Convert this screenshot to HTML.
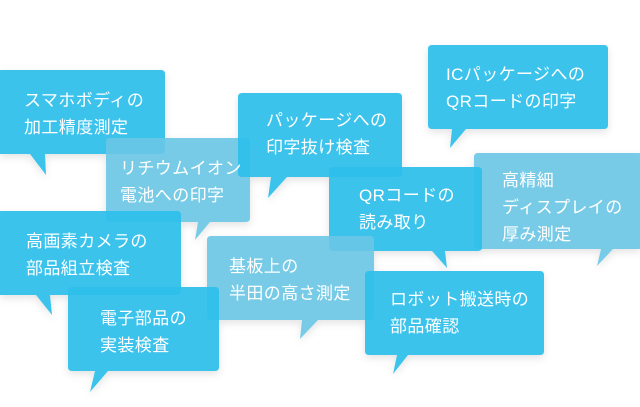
<!DOCTYPE html>
<html><head><meta charset="utf-8"><style>
html,body{margin:0;padding:0;background:#fff;}
svg{display:block}
text{font-family:"Liberation Sans","Noto Sans CJK JP",sans-serif;font-size:17px;fill:#fff;letter-spacing:0.4px}
.s{fill:#2ebfec;fill-opacity:0.92}
.l{fill:#6cc6e6;fill-opacity:0.9}
</style></head><body>
<svg width="640" height="407" viewBox="0 0 640 407" xmlns="http://www.w3.org/2000/svg">
<defs><filter id="sh" x="-20%" y="-20%" width="140%" height="150%"><feDropShadow dx="0" dy="3" stdDeviation="4" flood-color="#000" flood-opacity="0.12"/></filter></defs>
<g filter="url(#sh)">
<path class="s" d="M0 70 H161 Q165 70 165 74 V150 Q165 154 161 154 H45 L46 175 L30 154 H0 Z"/>
<path class="s" d="M432 45 H604 Q608 45 608 49 V125 Q608 129 604 129 H466 L450 148 L452 129 H432 Q428 129 428 125 V49 Q428 45 432 45 Z"/>
<path class="l" d="M110 138 H246 Q250 138 250 142 V218 Q250 222 246 222 H210 L195 240 L198 222 H110 Q106 222 106 218 V142 Q106 138 110 138 Z"/>
<path class="s" d="M242 93 H398 Q402 93 402 97 V173 Q402 177 398 177 H287 L268 198 L271 177 H242 Q238 177 238 173 V97 Q238 93 242 93 Z"/>
<path class="l" d="M478 153 H640 V249 H613 L597 266 L601 249 H478 Q474 249 474 245 V157 Q474 153 478 153 Z"/>
<path class="s" d="M333 167 H478 Q482 167 482 171 V247 Q482 251 478 251 H445 L447 268 L432 251 H333 Q329 251 329 247 V171 Q329 167 333 167 Z"/>
<path class="l" d="M211 236 H370 Q374 236 374 240 V316 Q374 320 370 320 H318 L300 339 L302 320 H211 Q207 320 207 316 V240 Q207 236 211 236 Z"/>
<path class="s" d="M0 211 H177 Q181 211 181 215 V291 Q181 295 177 295 H50 L52 315 L36 295 H0 Z"/>
<path class="s" d="M72 287 H215 Q219 287 219 291 V367 Q219 371 215 371 H108 L90 392 L95 371 H72 Q68 371 68 367 V291 Q68 287 72 287 Z"/>
<path class="s" d="M369 271 H540 Q544 271 544 275 V351 Q544 355 540 355 H408 L393 374 L397 355 H369 Q365 355 365 351 V275 Q365 271 369 271 Z"/>
</g>
<text x="24" y="106">スマホボディの</text><text x="24" y="133">加工精度測定</text>
<text x="446" y="80">ICパッケージへの</text><text x="446" y="107">QRコードの印字</text>
<text x="120" y="174">リチウムイオン</text><text x="120" y="201">電池への印字</text>
<text x="266" y="126">パッケージへの</text><text x="266" y="153">印字抜け検査</text>
<text x="502" y="186">高精細</text><text x="502" y="213">ディスプレイの</text><text x="502" y="240">厚み測定</text>
<text x="359" y="201">QRコードの</text><text x="359" y="228">読み取り</text>
<text x="229" y="272">基板上の</text><text x="229" y="299">半田の高さ測定</text>
<text x="26" y="247">高画素カメラの</text><text x="26" y="274">部品組立検査</text>
<text x="100" y="324">電子部品の</text><text x="100" y="351">実装検査</text>
<text x="390" y="305">ロボット搬送時の</text><text x="390" y="332">部品確認</text>
</svg>
</body></html>
